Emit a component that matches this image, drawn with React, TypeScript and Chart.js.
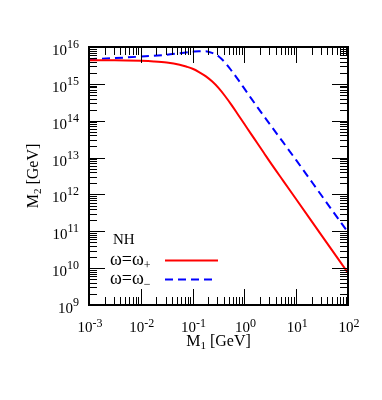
import React, { useEffect, useRef } from "react";
import { Chart, registerables } from "chart.js";

Chart.register(...registerables);

// M1 [GeV] sample points and M2 [GeV] values
const redM1 = [0.001, 0.00316, 0.01, 0.0178, 0.0316, 0.0562, 0.075, 0.1, 0.133, 0.178, 0.237, 0.316, 0.422, 0.562, 0.75, 1, 1.33, 1.78, 2.37, 3.16, 5.62, 10, 31.6, 100];
const redM2 = [4.37e15, 4.37e15, 4.22e15, 4.07e15, 3.8e15, 3.31e15, 2.95e15, 2.57e15, 2.09e15, 1.62e15, 1.17e15, 7.76e14, 4.68e14, 2.69e14, 1.48e14, 8.13e13, 4.47e13, 2.45e13, 1.35e13, 7.41e12, 2.34e12, 7.41e11, 7.41e10, 7.41e9];

const blueM1 = [0.001, 0.00316, 0.01, 0.0316, 0.0562, 0.1, 0.133, 0.178, 0.237, 0.316, 0.422, 0.562, 0.75, 1, 1.33, 1.78, 3.16, 5.62, 10, 31.6, 100];
const blueM2 = [4.68e15, 5.01e15, 5.5e15, 6.17e15, 6.76e15, 7.41e15, 7.67e15, 7.67e15, 6.92e15, 5.62e15, 3.8e15, 2.29e15, 1.32e15, 7.41e14, 4.17e14, 2.34e14, 7.76e13, 2.57e13, 8.51e12, 8.91e11, 9.33e10];

const xTickExps = [-3, -2, -1, 0, 1, 2];
const yTickExps = [9, 10, 11, 12, 13, 14, 15, 16];

const legendLabels = ["ω=ω", "ω=ω"];
const legendSubs = ["+", "−"];
const legendTitle = "NH";
const xTitle = ["M", "1", " [GeV]"];
const yTitle = ["M", "2", " [GeV]"];

const SERIF = '"Liberation Serif", "Times New Roman", serif';

const decorPlugin = {
  id: "decor",
  afterDatasetsDraw(chart: any) {
    const { ctx, chartArea: a, scales } = chart;
    const xs = scales.x;
    const ys = scales.y;
    ctx.save();
    // ticks
    ctx.strokeStyle = "#000";
    ctx.lineWidth = 1;
    const majorLen = 16;
    const minorLen = 8;
    for (let i = 0; i < xTickExps.length; i++) {
      const d = xTickExps[i];
      for (let m = 1; m <= 9; m++) {
        if (i === xTickExps.length - 1 && m > 1) break;
        const px = Math.round(xs.getPixelForValue(m * Math.pow(10, d))) + 0.5;
        const len = m === 1 ? majorLen : minorLen;
        ctx.beginPath();
        ctx.moveTo(px, a.bottom);
        ctx.lineTo(px, a.bottom - len);
        ctx.moveTo(px, a.top);
        ctx.lineTo(px, a.top + len);
        ctx.stroke();
      }
    }
    for (let i = 0; i < yTickExps.length; i++) {
      const d = yTickExps[i];
      for (let m = 1; m <= 9; m++) {
        if (i === yTickExps.length - 1 && m > 1) break;
        const py = Math.round(ys.getPixelForValue(m * Math.pow(10, d))) + 0.5;
        const len = m === 1 ? majorLen : minorLen;
        ctx.beginPath();
        ctx.moveTo(a.left, py);
        ctx.lineTo(a.left + len, py);
        ctx.moveTo(a.right, py);
        ctx.lineTo(a.right - len, py);
        ctx.stroke();
      }
    }
    // frame
    ctx.lineWidth = 2;
    ctx.strokeRect(a.left, a.top, a.right - a.left, a.bottom - a.top);

    // tick labels
    ctx.fillStyle = "#000";
    ctx.textBaseline = "alphabetic";
    const baseFont = "15px " + SERIF;
    const supFont = "12px " + SERIF;
    for (const d of xTickExps) {
      const px = xs.getPixelForValue(Math.pow(10, d));
      ctx.font = baseFont;
      const w1 = ctx.measureText("10").width;
      ctx.font = supFont;
      const sup = String(d);
      const w2 = ctx.measureText(sup).width;
      const x0 = px - (w1 + w2) / 2 + 1;
      const base = a.bottom + 27;
      ctx.font = baseFont;
      ctx.textAlign = "left";
      ctx.fillText("10", x0, base);
      ctx.font = supFont;
      ctx.fillText(sup, x0 + w1, base - 5);
    }
    for (const d of yTickExps) {
      const py = ys.getPixelForValue(Math.pow(10, d));
      ctx.font = supFont;
      const sup = String(d);
      const w2 = ctx.measureText(sup).width;
      ctx.font = baseFont;
      const w1 = ctx.measureText("10").width;
      const right = a.left - 10;
      const base = py + 8;
      ctx.textAlign = "left";
      ctx.fillText("10", right - w2 - w1, base);
      ctx.font = supFont;
      ctx.fillText(sup, right - w2, base - 7);
    }

    // axis titles
    const drawSubText = (parts: string[], x: number, y: number, size: number) => {
      ctx.font = size + "px " + SERIF;
      const wM = ctx.measureText(parts[0]).width;
      ctx.font = Math.round(size * 0.7) + "px " + SERIF;
      const wS = ctx.measureText(parts[1]).width;
      ctx.font = size + "px " + SERIF;
      const wR = ctx.measureText(parts[2]).width;
      const total = wM + wS + wR;
      let cx = x - total / 2;
      ctx.textAlign = "left";
      ctx.fillText(parts[0], cx, y);
      cx += wM;
      ctx.font = Math.round(size * 0.7) + "px " + SERIF;
      ctx.fillText(parts[1], cx, y + 3);
      cx += wS;
      ctx.font = size + "px " + SERIF;
      ctx.fillText(parts[2], cx, y);
    };
    drawSubText(xTitle, (a.left + a.right) / 2, a.bottom + 41, 16);
    ctx.save();
    ctx.translate(37.5, (a.top + a.bottom) / 2);
    ctx.rotate(-Math.PI / 2);
    drawSubText(yTitle, 0, 0, 16);
    ctx.restore();

    // legend
    ctx.textAlign = "left";
    ctx.font = "15px " + SERIF;
    ctx.fillText(legendTitle, 113, 243.5);
    const rows = [
      { y: 265, lineY: 260.5, color: "#ff0000", dash: [] as number[], end: 218 },
      { y: 283.5, lineY: 279.5, color: "#0000ff", dash: [8, 5], end: 216 },
    ];
    rows.forEach((r, i) => {
      ctx.font = "18px " + SERIF;
      ctx.fillText(legendLabels[i], 110, r.y);
      const w = ctx.measureText(legendLabels[i]).width;
      ctx.font = "12px " + SERIF;
      ctx.fillText(legendSubs[i], 110 + w, r.y + 4);
      ctx.strokeStyle = r.color;
      ctx.lineWidth = 2;
      ctx.setLineDash(r.dash);
      ctx.beginPath();
      ctx.moveTo(165, r.lineY);
      ctx.lineTo(r.end, r.lineY);
      ctx.stroke();
      ctx.setLineDash([]);
    });
    ctx.restore();
  },
};

export default function App() {
  const canvasRef = useRef<HTMLCanvasElement | null>(null);
  useEffect(() => {
    document.body.style.margin = "0";
    const canvas = canvasRef.current;
    if (!canvas) return;
    const chart = new Chart(canvas, {
      type: "line",
      data: {
        datasets: [
          {
            label: "ω=ω+",
            data: redM1.map((x, i) => ({ x, y: redM2[i] })),
            borderColor: "#ff0000",
            borderWidth: 2,
            pointRadius: 0,
            cubicInterpolationMode: "monotone",
            fill: false,
          },
          {
            label: "ω=ω−",
            data: blueM1.map((x, i) => ({ x, y: blueM2[i] })),
            borderColor: "#0000ff",
            borderWidth: 2,
            borderDash: [8, 5],
            pointRadius: 0,
            cubicInterpolationMode: "monotone",
            fill: false,
          },
        ],
      },
      options: {
        animation: false,
        responsive: false,
        maintainAspectRatio: false,
        layout: { padding: { left: 89, top: 47, right: 34, bottom: 95 } },
        plugins: { legend: { display: false }, tooltip: { enabled: false } },
        scales: {
          x: { type: "logarithmic", min: 1e-3, max: 1e2, display: false },
          y: { type: "logarithmic", min: 1e9, max: 1e16, display: false },
        },
      },
      plugins: [decorPlugin],
    } as any);
    return () => chart.destroy();
  }, []);
  return (
    <div style={{ width: 382, height: 400, background: "#fff" }}>
      <canvas ref={canvasRef} width={382} height={400} style={{ display: "block" }} />
    </div>
  );
}
